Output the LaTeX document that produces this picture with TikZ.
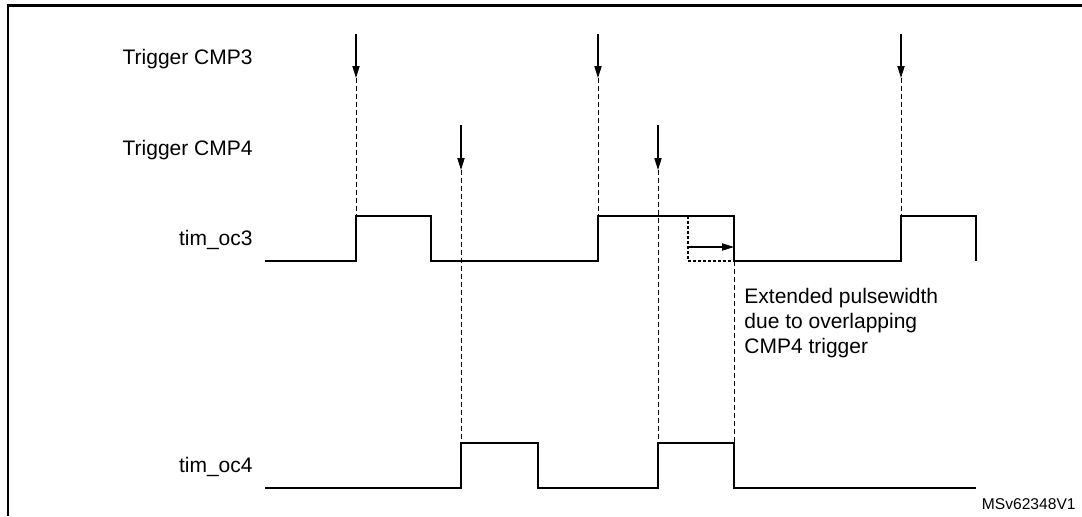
\documentclass[tikz,border=0pt]{standalone}
\usepackage{fontspec}
\setmainfont{Liberation Sans}
\usetikzlibrary{arrows.meta,calc}
\definecolor{SigClr}{rgb}{0,0,0}

\begin{document}
\begin{tikzpicture}[x=0.5pt,y=-0.5pt]
\tikzset{sig/.style={line width=1pt,color=SigClr},
  trig/.style={line width=0.6pt,-{Triangle[length=6pt,width=3.6pt]}},
  guide/.style={line width=0.45pt,dash pattern=on 2.5pt off 1.5pt},
  extline/.style={line width=0.9pt,dash pattern=on 1.5pt off 1pt},
  lbl/.style={font=\fontsize{10.5}{12.4}\selectfont,inner sep=0pt}}

\useasboundingbox (0,0) rectangle (1082,516);
\draw[line width=1.2pt] (8,516) -- (8,5.5) -- (1082,5.5);

\coordinate (oc3hi) at (0,216);
\coordinate (oc3lo) at (0,261);
\coordinate (oc4hi) at (0,443);
\coordinate (oc4lo) at (0,488);

\coordinate (start) at (265,0);
\coordinate (F3a) at (431,0);
\coordinate (F3b) at (734,0);
\coordinate (F3c) at (976,0);
\coordinate (F4a) at (538,0);
\coordinate (E0) at (688,0);

\coordinate (T3a) at (356,34);
\coordinate (T3b) at (598,34);
\coordinate (T3c) at (901,34);
\coordinate (T4a) at (461,125);
\coordinate (T4b) at (658,125);

\node[lbl,anchor=base east] (trig3) at (253,64) {Trigger CMP3};
\node[lbl,anchor=base east] (trig4) at (253,155) {Trigger CMP4};
\node[lbl,anchor=base east] (oc3) at (253,245) {tim\_oc3};
\node[lbl,anchor=base east] (oc4) at (253,472) {tim\_oc4};

\draw[trig] (T3a) -- ++(0,44) coordinate (H3a);
\draw[trig] (T3b) -- ++(0,44) coordinate (H3b);
\draw[trig] (T3c) -- ++(0,44) coordinate (H3c);
\draw[trig] (T4a) -- ++(0,45) coordinate (H4a);
\draw[trig] (T4b) -- ++(0,45) coordinate (H4b);

\draw[guide] (H3a) -- (H3a |- oc3hi);
\draw[guide] (H3b) -- (H3b |- oc3hi);
\draw[guide] (H3c) -- (H3c |- oc3hi);
\draw[guide] (H4a) -- (H4a |- oc4hi);
\draw[guide] (H4b) -- (H4b |- oc4hi);
\draw[guide] (F3b |- oc3lo) -- (F3b |- oc4hi);

\draw[sig] (start |- oc3lo) -| (H3a |- oc3hi) -| (F3a |- oc3lo) -| (H3b |- oc3hi)
  -| (F3b |- oc3lo) -| (H3c |- oc3hi) -| (F3c |- oc3lo);
\draw[sig] (start |- oc4lo) -| (H4a |- oc4hi) -| (F4a |- oc4lo) -| (H4b |- oc4hi)
  -| (F3b |- oc4lo) -- (F3c |- oc4lo);

\draw[extline] (E0 |- oc3hi) -- (E0 |- oc3lo) -- (F3b |- oc3lo);
\draw[line width=0.6pt,-{Triangle[length=6pt,width=3.6pt]}] (E0 |- 0,247) -- (F3b |- 0,247);

\node[lbl,anchor=north west,align=left] (note) at (744,288)
  {Extended pulsewidth\\due to overlapping\\CMP4 trigger};
\node[lbl,anchor=base east,font=\fontsize{7.8}{9}\selectfont] (ref) at (1076,509) {MSv62348V1};

\end{tikzpicture}
\end{document}
